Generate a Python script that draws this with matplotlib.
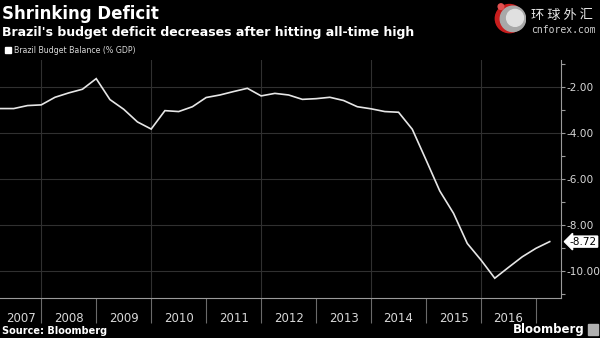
import matplotlib.pyplot as plt
import matplotlib.transforms as mtransforms
from matplotlib.patches import Circle, Rectangle
import numpy as np

plt.rcParams['axes.unicode_minus'] = False

# quarterly Brazil budget balance, % of GDP (2007 Q1 .. 2017 Q1)
years = list(range(2007, 2018))
quarter_ends = [y + q / 4 for y in range(2007, 2017) for q in range(1, 5)] + [2017.25]
balance = [
    -2.94, -2.94, -2.81, -2.78,
    -2.45, -2.26, -2.10, -1.64,
    -2.55, -2.97, -3.52, -3.83,
    -3.03, -3.07, -2.86, -2.46,
    -2.35, -2.20, -2.06, -2.39,
    -2.28, -2.35, -2.54, -2.51,
    -2.45, -2.59, -2.86, -2.95,
    -3.07, -3.10, -3.84, -5.17,
    -6.52, -7.49, -8.80, -9.52,
    -10.31, -9.84, -9.38, -9.01,
    -8.72,
]
y_ticks = [-2, -4, -6, -8, -10]
y_minor = [-1, -3, -5, -7, -9, -11]
grid_years = [2008, 2010, 2012, 2014, 2016]

bg = 'black'
fg = '#d8d8d8'
grid_c = '#303030'

fig = plt.figure(figsize=(6, 3.38), dpi=100, facecolor=bg)
ax = fig.add_axes([0, 0.1183, 0.935, 0.7042], facecolor=bg)

x0, x1 = 2007.25, 2017.455
ax.set_xlim(x0, x1)
ax.set_ylim(-11.17, -0.83)

ax.plot(quarter_ends, balance, color='#e6e6e6', lw=1.2, solid_joinstyle='miter')

# grid
for v in y_ticks:
    ax.axhline(v, color=grid_c, lw=0.8, zorder=0)
for g in grid_years:
    ax.axvline(g, color=grid_c, lw=0.8, zorder=0)

for s in ['top', 'left']:
    ax.spines[s].set_visible(False)
ax.spines['right'].set_color('#9a9a9a')
ax.spines['bottom'].set_color('#9a9a9a')

# y axis on the right
ax.yaxis.tick_right()
ax.set_yticks(y_ticks)
ax.set_yticks(y_minor, minor=True)
ax.set_yticklabels([f'{v:.2f}' for v in y_ticks])
ax.tick_params(axis='y', which='both', colors='#9a9a9a', length=3, width=0.8,
               labelcolor=fg, labelsize=7.6, pad=1)

# x axis: year separators as long ticks, labels centred in each year
ax.set_xticks(years[1:])
ax.set_xticklabels([])
ax.tick_params(axis='x', which='major', colors='#6a6a6a', length=18, width=0.8)
centres = []
for y in years:
    a, b = max(y, x0), min(y + 1, x1)
    if b - a > 0.5:
        centres.append(((a + b) / 2, str(y)))
ax.set_xticks([c for c, _ in centres], minor=True)
ax.set_xticklabels([l for _, l in centres], minor=True)
ax.tick_params(axis='x', which='minor', length=0, labelcolor=fg, labelsize=8.5, pad=10)

# last value tag
trans = mtransforms.blended_transform_factory(ax.transAxes, ax.transData)
ax.text(1.016, balance[-1], f'{balance[-1]:.2f}', transform=trans, color='black',
        fontsize=7.6, va='center', ha='left', clip_on=False,
        bbox=dict(boxstyle='larrow,pad=0.05', fc='white', ec='white'))

# titles
fig.text(0.004, 0.958, 'Shrinking Deficit', color='white', fontsize=12,
         fontweight='bold', va='center', ha='left')
fig.text(0.004, 0.905, "Brazil's budget deficit decreases after hitting all-time high",
         color='white', fontsize=9, fontweight='bold', va='center', ha='left')
fig.add_artist(Rectangle((0.008, 0.843), 0.011, 0.019, transform=fig.transFigure,
                         color='white'))
fig.text(0.023, 0.852, 'Brazil Budget Balance (% GDP)', color=fg, fontsize=5.7,
         va='center', ha='left')

# footer
fig.text(0.004, 0.022, 'Source: Bloomberg', color='white', fontsize=7,
         fontweight='bold', va='center', ha='left')
fig.text(0.975, 0.024, 'Bloomberg', color='white', fontsize=8.5,
         fontweight='bold', va='center', ha='right')
fig.add_artist(Rectangle((0.980, 0.010), 0.016, 0.030, transform=fig.transFigure,
                         color='#b0b0b0'))

# watermark logo
lax = fig.add_axes([0.815, 0.895, 0.068, 0.1])
lax.set_xlim(-1.2, 1.2)
lax.set_ylim(-1.2, 1.2)
lax.set_aspect('equal')
lax.axis('off')
lax.add_patch(Circle((0, 0), 1.0, color='#c81e1e'))
lax.add_patch(Circle((0.25, -0.02), 0.9, color='#a8a8a8'))
lax.add_patch(Circle((0.4, 0.05), 0.6, color='#e0e0e0'))
lax.add_patch(Circle((-0.6, 0.85), 0.2, color='#e05050'))
fig.text(0.885, 0.955, '环 球 外 汇', family=['Noto Sans CJK SC', 'DejaVu Sans'],
         color='#e8e8e8', fontsize=9.5, va='center', ha='left')
fig.text(0.886, 0.912, 'cnforex.com', family='DejaVu Sans Mono', color='#d0d0d0',
         fontsize=7, va='center', ha='left')

fig.savefig('out.png', dpi=100, facecolor=bg)
